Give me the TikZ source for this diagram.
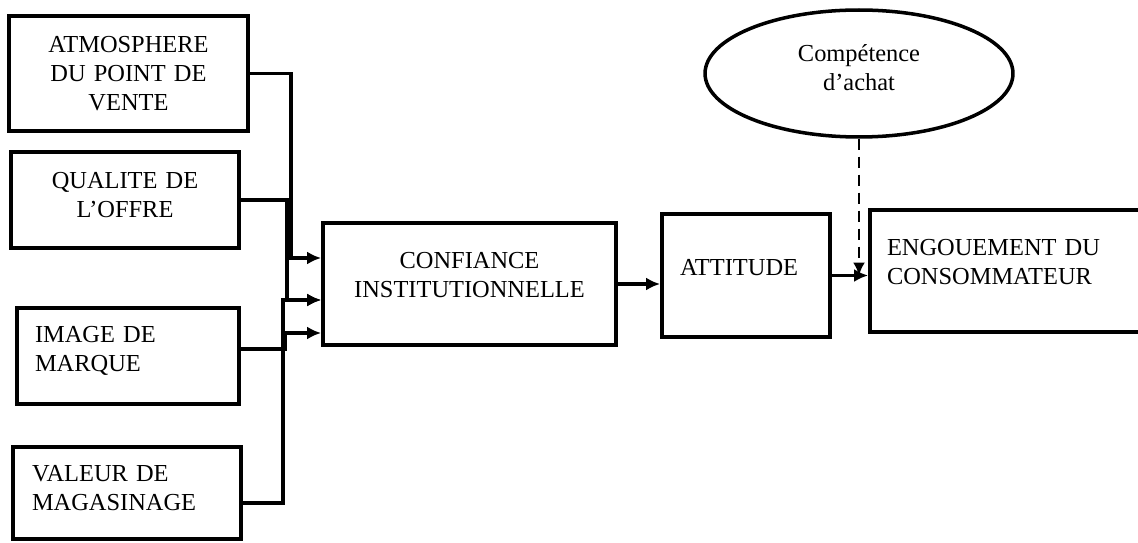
\documentclass[tikz,border=0pt]{standalone}
\usepackage{fontspec}
\setmainfont{Liberation Serif}
\usetikzlibrary{shapes.geometric,arrows.meta}

\begin{document}
\begin{tikzpicture}[x=0.02cm,y=-0.02cm,
    every node/.style={font=\fontsize{13.9pt}{16.5pt}\selectfont},
    cadre/.style={draw,line width=2.2pt,rectangle,inner ysep=0pt},
    lien/.style={line width=1.9pt,-{Latex[length=0.28cm,width=0.26cm]}},
    pointille/.style={line width=1.3pt,dash pattern=on 0.22cm off 0.14cm,-{Latex[length=0.26cm,width=0.24cm]}}]

    \useasboundingbox (0,0) rectangle (1138,543);

    % facteurs
    \node[cadre,inner xsep=0pt,text width=4.78cm,align=center,minimum height=2.3cm] (atmos) at (128.5,73.5) {ATMOSPHERE\\DU POINT DE\\VENTE};
    \node[cadre,inner xsep=0pt,text width=4.56cm,align=center,minimum height=1.92cm,text depth=0.79cm] (qualite) at (125,200) {QUALITE DE\\L’OFFRE};
    \node[cadre,inner xsep=0.36cm,text width=3.72cm,align=left,minimum height=1.92cm,text depth=0.87cm] (image) at (128,356) {IMAGE DE\\MARQUE};
    \node[cadre,inner xsep=0.38cm,text width=3.8cm,align=left,minimum height=1.84cm,text depth=0.77cm] (valeur) at (127,493) {VALEUR DE\\MAGASINAGE};

    \node[cadre,inner xsep=0pt,text width=5.86cm,align=center,minimum height=2.44cm,text depth=0.95cm] (confiance) at (469.5,284) {CONFIANCE\\INSTITUTIONNELLE};
    \node[cadre,inner xsep=0.36cm,text width=2.64cm,align=left,minimum height=2.46cm,text depth=0.32cm] (attitude) at (746,275.5) {ATTITUDE};
    \node[cadre,inner xsep=0.34cm,text width=4.82cm,align=left,minimum height=2.44cm,text depth=0.93cm] (engouement) at (1007.5,271) {ENGOUEMENT DU\\CONSOMMATEUR};

    \node[draw,ellipse,line width=2pt,inner sep=0pt,minimum width=6.16cm,minimum height=2.54cm,align=center,text depth=0.25cm] (competence) at (859,73.5) {Compétence\\d’achat};

    % jonctions
    \coordinate (j1) at (291,258);
    \coordinate (j2) at (287,300);
    \coordinate (j3) at (285,333);
    \coordinate (j4) at (283,300);

    \draw[lien] (atmos.east) -| (j1) -- (j1 -| confiance.west);
    \draw[lien] (qualite.east) -| (j2) -- (j2 -| confiance.west);
    \draw[lien] ([yshift=0.14cm]image.east) -| (j3) -- (j3 -| confiance.west);
    \draw[lien] ([yshift=-0.2cm]valeur.east) -| (j4) -- (j4 -| confiance.west);

    \draw[lien] (confiance.east) -- (confiance.east -| attitude.west);
    \draw[lien] (attitude.east) -- (attitude.east -| engouement.west);

    \draw[pointille] (competence.south) -- (competence.south |- attitude.east);

\end{tikzpicture}
\end{document}
